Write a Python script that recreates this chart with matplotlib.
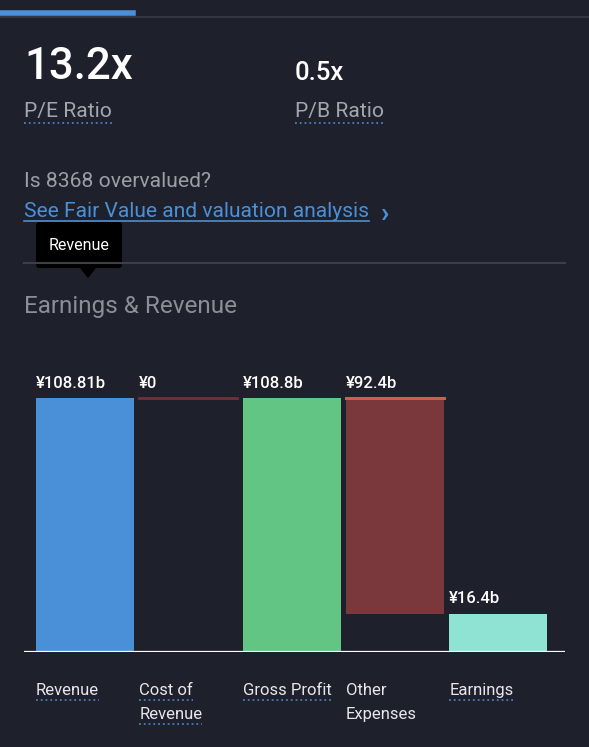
import matplotlib
matplotlib.use("Agg")
import matplotlib.pyplot as plt
from matplotlib.patches import FancyBboxPatch, Polygon
from matplotlib.lines import Line2D

categories = ["Revenue", "Cost of\nRevenue", "Gross Profit", "Other\nExpenses", "Earnings"]
value_labels = ["¥108.81b", "¥0", "¥108.8b", "¥92.4b", "¥16.4b"]
revenue = 108.81
cost_of_revenue = 0.0
gross_profit = 108.8
other_expenses = 92.4
earnings = 16.4
underlined = [True, True, True, False, True]

BG = "#1e212b"
W, H = 589, 747
plt.rcParams['font.family'] = ['Roboto', 'DejaVu Sans']
fig = plt.figure(figsize=(W / 100, H / 100), dpi=100, facecolor=BG)

def fx(px):
    return px / W

def fy(py):
    return 1 - py / H

def hline(x0, x1, y, color, lw, ls="-"):
    fig.add_artist(Line2D([fx(x0), fx(x1)], [fy(y), fy(y)], color=color, lw=lw, ls=ls,
                          transform=fig.transFigure))

# top tab bar
hline(0, 589, 16.5, "#33363f", 1.5)
hline(0, 133, 12.5, "#4a90d9", 4)

texts_to_underline = []

fig.text(fx(24), fy(79), "13.2x", color="white", fontsize=31.5, fontweight="medium", va="baseline")
fig.text(fx(295), fy(80), "0.5x", color="white", fontsize=18.5, fontweight="medium", va="baseline")
t1 = fig.text(fx(24), fy(117), "P/E Ratio", color="#a2a6ae", fontsize=15.2, va="baseline")
t2 = fig.text(fx(295), fy(117), "P/B Ratio", color="#a2a6ae", fontsize=15.2, va="baseline")
texts_to_underline += [(t1, 123), (t2, 123)]

fig.text(fx(24), fy(187), "Is 8368 overvalued?", color="#9a9ea6", fontsize=15.2, va="baseline")
link = fig.text(fx(24), fy(217), "See Fair Value and valuation analysis", color="#4a90d9",
                fontsize=15.1, va="baseline")
fig.text(fx(381), fy(215), "›", color="#4a90d9", fontsize=20, fontweight="bold", va="center")

# separator
hline(24, 565, 263, "#3c3f48", 1.5)

# tooltip
fig.add_artist(FancyBboxPatch((fx(36), fy(268)), fx(86), 46 / H,
                              boxstyle="round,pad=0,rounding_size=0.005",
                              transform=fig.transFigure, facecolor="black", edgecolor="none"))
fig.add_artist(Polygon([[fx(80), fy(268)], [fx(96), fy(268)], [fx(88), fy(278)]],
                       closed=True, transform=fig.transFigure, facecolor="black", edgecolor="none"))
fig.text(fx(79), fy(245), "Revenue", color="white", fontsize=11.5, ha="center", va="center")

fig.text(fx(24), fy(313), "Earnings & Revenue", color="#8a8e96", fontsize=17.5, va="baseline")

# chart axes
ax_left, ax_right, ax_base, ax_top = 24, 565, 652, 352
ax = fig.add_axes([fx(ax_left), fy(ax_base), fx(ax_right - ax_left), (ax_base - ax_top) / H])
ax.set_facecolor(BG)
for s in ax.spines.values():
    s.set_visible(False)
ax.set_xticks([])
ax.set_yticks([])
unit = 103.3
x0 = (85 - ax_left) / unit
ax.set_xlim(-x0, (ax_right - ax_left) / unit - x0)
ax.set_ylim(0, revenue * (ax_base - ax_top) / 254)
bw = 98 / unit

pos = list(range(len(categories)))
bottoms = [0, revenue - cost_of_revenue, 0, gross_profit - other_expenses, 0]
heights = [revenue, cost_of_revenue, gross_profit, other_expenses, earnings]
colors = ["#4a90d9", "#7a373c", "#62c584", "#7a373c", "#8fe3d3"]
ax.bar(pos, heights, bottom=bottoms, width=bw, color=colors, linewidth=0, align="center")
ax.plot([pos[1] - bw / 2, pos[1] + bw / 2], [revenue, revenue], color="#6e3338", lw=2)
ax.plot([pos[3] - bw / 2, pos[3] + bw / 2], [gross_profit, gross_profit], color="#d65a54", lw=2.2)
ax.axhline(0, color="white", lw=1.6)

tops = [revenue, revenue, gross_profit, gross_profit, earnings]
for p, top, lab in zip(pos, tops, value_labels):
    ax.annotate(lab, (p - bw / 2, top), xytext=(0, 7.5), textcoords="offset points",
                color="white", fontsize=12, fontweight="medium", ha="left", va="baseline")

for p, cat, ul in zip(pos, categories, underlined):
    for i, ln in enumerate(cat.split("\n")):
        tx = ax.annotate(ln, (p - bw / 2, 0), xytext=(0, -(43 + 24 * i) * 0.72),
                         textcoords="offset points", color="#e6e7ea", fontsize=12,
                         ha="left", va="baseline")
        if ul:
            texts_to_underline.append((tx, 700 + 24 * i))

fig.canvas.draw()
r = fig.canvas.get_renderer()
for tx, ypx in texts_to_underline:
    bb = tx.get_window_extent(r)
    hline(bb.x0, bb.x1, ypx, "#4a7fc0", 1.3, ":")

bb = link.get_window_extent(r)
hline(bb.x0, bb.x1, 220.5, "#4a90d9", 1.2)

fig.savefig("out.png", dpi=100, facecolor=BG)
